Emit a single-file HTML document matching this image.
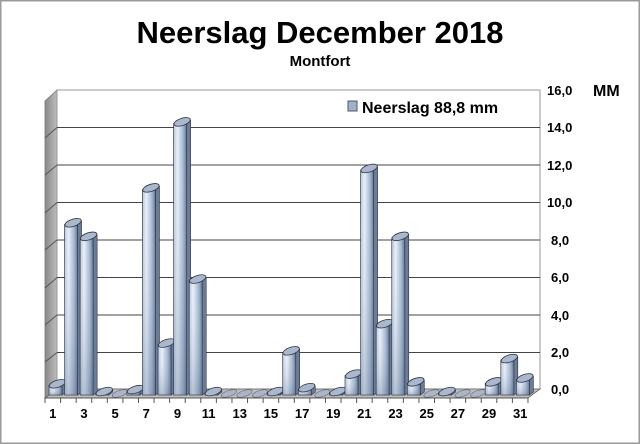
<!DOCTYPE html>
<html><head><meta charset="utf-8"><style>
html,body{margin:0;padding:0;background:#fff}
svg{display:block}
text{font-family:"Liberation Sans",Arial,sans-serif;font-weight:bold;fill:#000}
</style></head><body>
<svg width="640" height="444" viewBox="0 0 640 444" xmlns="http://www.w3.org/2000/svg">
<defs>
<linearGradient id="bg" x1="0" x2="1" y1="0" y2="0">
<stop offset="0" stop-color="#b8c8dc"/><stop offset="0.3" stop-color="#e8f0fa"/><stop offset="0.75" stop-color="#9fb2cc"/><stop offset="1" stop-color="#5e728e"/>
</linearGradient>
<linearGradient id="bv" x1="0" x2="0" y1="0" y2="1">
<stop offset="0" stop-color="#fff" stop-opacity="0"/><stop offset="1" stop-color="#5a7090" stop-opacity="0.35"/>
</linearGradient>
<linearGradient id="wall" x1="0" x2="1"><stop offset="0" stop-color="#888"/><stop offset="1" stop-color="#bdbdbd"/></linearGradient>
</defs>
<rect x="0.5" y="0.5" width="639" height="443" fill="#fff" stroke="#9a9a9a" stroke-width="2"/>
<text x="320" y="43" font-size="31" text-anchor="middle">Neerslag December 2018</text>
<text x="320" y="66" font-size="15" text-anchor="middle">Montfort</text>
<polygon points="45,101 57,90 57,389 45,398" fill="url(#wall)" stroke="#777" stroke-width="0.8"/>
<rect x="57" y="90" width="483" height="299" fill="#fff" stroke="#999"/>
<g stroke="#444" stroke-width="1">
<line x1="57" x2="540" y1="127.5" y2="127.5"/><line x1="57" x2="540" y1="165" y2="165"/>
<line x1="57" x2="540" y1="202.5" y2="202.5"/><line x1="57" x2="540" y1="240" y2="240"/>
<line x1="57" x2="540" y1="277.5" y2="277.5"/><line x1="57" x2="540" y1="315" y2="315"/>
<line x1="57" x2="540" y1="352.5" y2="352.5"/>
</g>
<g stroke="#555" stroke-width="1">
<line x1="45" x2="57" y1="138" y2="127.5"/><line x1="45" x2="57" y1="175" y2="165"/>
<line x1="45" x2="57" y1="213" y2="202.5"/><line x1="45" x2="57" y1="250" y2="240"/>
<line x1="45" x2="57" y1="288" y2="277.5"/><line x1="45" x2="57" y1="325" y2="315"/>
<line x1="45" x2="57" y1="362" y2="352.5"/>
</g>
<polygon points="57,389 540,389 528,398 45,398" fill="#bdbdbd" stroke="#666" stroke-width="0.8"/>
<rect x="340" y="92" width="198" height="34" fill="#fff"/>
<rect x="348" y="101" width="9" height="10" fill="#9fb2cc" stroke="#556"/>
<text x="362" y="113" font-size="16">Neerslag 88,8 mm</text>
<g font-size="13">
<text x="547" y="95">16,0</text><text x="547" y="132">14,0</text><text x="547" y="170">12,0</text>
<text x="547" y="207">10,0</text><text x="551" y="245">8,0</text><text x="551" y="282">6,0</text>
<text x="551" y="320">4,0</text><text x="551" y="357">2,0</text><text x="551" y="394">0,0</text>
</g>
<text x="593" y="96" font-size="16">MM</text>
<g id="bars"></g>
<line x1="45" x2="528" y1="398" y2="398" stroke="#555"/>
<g id="ticks" stroke="#555"></g>
<g id="xl" font-size="13" text-anchor="middle"></g>
<script>
(function(){
var v=[0.5,8.8,8.1,0.1,0,0.2,10.6,2.6,14.0,5.9,0.1,0,0,0,0.1,2.2,0.3,0,0.1,1.0,11.6,3.6,8.1,0.6,0,0.1,0,0,0.6,1.8,0.8];
var ns="http://www.w3.org/2000/svg",g=document.getElementById('bars'),t=document.getElementById('ticks'),xl=document.getElementById('xl');
function el(n,a,p){var e=document.createElementNS(ns,n);for(var k in a)e.setAttribute(k,a[k]);p.appendChild(e);return e;}
for(var i=0;i<=31;i++){var x=45+i*15.58;el('line',{x1:x,x2:x,y1:398,y2:403},t);}
for(var i=0;i<31;i++){
 var cx=45+i*15.58+7.8;
 if((i+1)%2==1){var tx=el('text',{x:cx,y:418},xl);tx.textContent=i+1;}
 var x0=45+i*15.58+4, w=13, base=395, h=v[i]*19.4, yt=base-h;
 var ex=x0+w/2+2, ey=yt-1.5;
 if(v[i]<=0){
  el('ellipse',{cx:ex,cy:ey,rx:8,ry:3,transform:'rotate(-18 '+ex+' '+ey+')',fill:'#aab6c6',stroke:'#667','stroke-width':0.6},g);
  continue;}
 el('path',{d:'M'+(x0+w)+' '+yt+' l4 -3 v'+h+' l-4 3 z',fill:'#6a7d98',stroke:'#334','stroke-width':0.6},g);
 el('rect',{x:x0,y:yt,width:w,height:h,fill:'url(#bg)',stroke:'#334','stroke-width':0.7},g);
 el('rect',{x:x0,y:yt,width:w,height:h,fill:'url(#bv)'},g);
 el('ellipse',{cx:ex,cy:ey,rx:8.5,ry:3.6,transform:'rotate(-18 '+ex+' '+ey+')',fill:'#a9b8cc',stroke:'#334','stroke-width':0.8},g);
}
})();
</script>
</svg>
</body></html>
